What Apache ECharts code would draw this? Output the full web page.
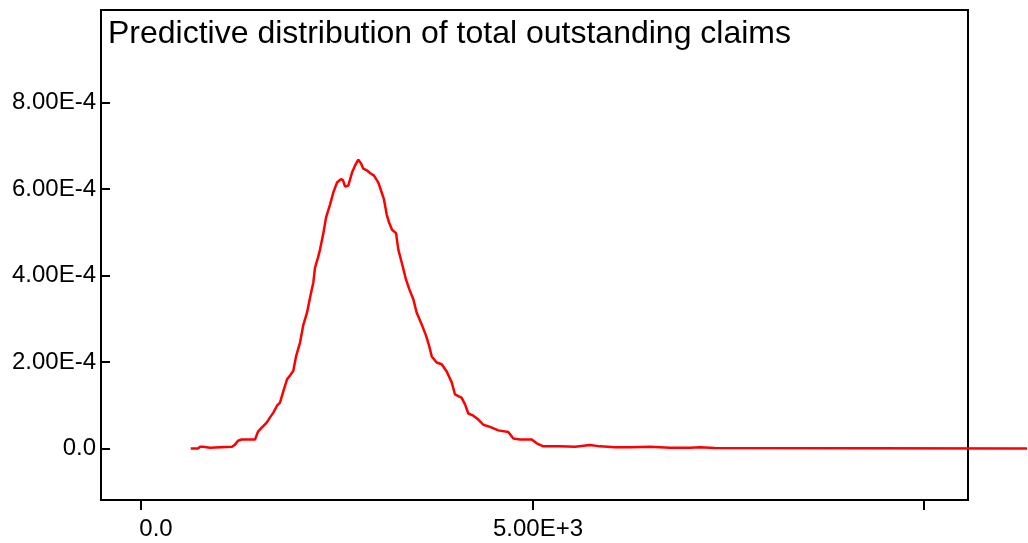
<!DOCTYPE html>
<html>
<head>
<meta charset="utf-8">
<script src="https://cdn.jsdelivr.net/npm/echarts@6/dist/echarts.min.js"></script>
<style>html,body{margin:0;padding:0;background:#fff}#c{width:1028px;height:543px}</style>
</head>
<body>
<div id="c"></div>
<script>
const titleText = 'Predictive distribution of total outstanding claims';

// total outstanding claims (x) and density (y, in units of 1E-4)
const claimValues = [635, 728, 754, 792, 817, 881, 1009, 1162, 1200, 1239, 1286, 1456, 1494, 1545, 1605, 1648, 1690, 1737, 1775, 1817,
  1865, 1903, 1945, 1980, 2031, 2073, 2120, 2167, 2201, 2222, 2261, 2286, 2328, 2363, 2414, 2456, 2503, 2554, 2580, 2605,
  2648, 2669, 2695, 2733, 2775, 2810, 2839, 2886, 2925, 2976, 3031, 3074, 3103, 3138, 3167, 3206, 3257, 3286, 3337, 3384,
  3427, 3478, 3521, 3585, 3640, 3682, 3713, 3776, 3840, 3904, 3968, 4010, 4096, 4138, 4180, 4244, 4308, 4372, 4457, 4563,
  4691, 4755, 4840, 4990, 5054, 5138, 5351, 5543, 5734, 5862, 6054, 6245, 6501, 6756, 7011, 7139, 7331, 7356, 11315];
const densityE4 = [0, 0, 0.04, 0.04, 0, 0.02, 0.03, 0.04, 0.09, 0.18, 0.21, 0.21, 0.39, 0.49, 0.60, 0.72, 0.83, 0.99, 1.06, 1.32,
  1.60, 1.69, 1.80, 2.13, 2.45, 2.86, 3.14, 3.56, 3.84, 4.18, 4.42, 4.60, 4.97, 5.34, 5.64, 5.92, 6.15, 6.23, 6.20, 6.06,
  6.08, 6.22, 6.38, 6.54, 6.68, 6.59, 6.47, 6.43, 6.37, 6.31, 6.15, 5.92, 5.76, 5.41, 5.23, 5.06, 4.98, 4.60, 4.25, 3.91,
  3.68, 3.45, 3.14, 2.87, 2.61, 2.36, 2.13, 1.99, 1.95, 1.78, 1.53, 1.25, 1.17, 1.02, 0.81, 0.76, 0.67, 0.55, 0.50, 0.42,
  0.38, 0.23, 0.21, 0.21, 0.12, 0.05, 0.05, 0.04, 0.08, 0.05, 0.03, 0.03, 0.04, 0.02, 0.02, 0.03, 0.01, 0, 0];

const xTickValues = [0, 5000, 10000];
const xTickLabels = ['0.0', '5.00E+3', ''];
const yTickValues = [0, 0.0002, 0.0004, 0.0006, 0.0008];
const yTickLabels = ['0.0', '2.00E-4', '4.00E-4', '6.00E-4', '8.00E-4'];

const seriesData = claimValues.map((x, i) => [x, densityE4[i] * 1e-4]);
const FONT = '"Liberation Sans", Arial, Helvetica, sans-serif';

// axis ranges
const X_MIN = -511, X_MAX = 10562;          // framed box
const X_MAX_WIDE = 11328;                   // same scale, extended to the page edge (curve overruns the frame)
const Y_MIN = -0.000119, Y_MAX = 0.001014;

function lookup(values, labels, v) {
  for (let i = 0; i < values.length; i++) {
    if (Math.abs(values[i] - v) < 1e-12 + Math.abs(values[i]) * 1e-6) return labels[i];
  }
  return '';
}

const chart = echarts.init(document.getElementById('c'), null, {renderer: 'canvas'});
chart.setOption({
  animation: false,
  backgroundColor: '#fff',
  title: {
    text: titleText,
    left: 103,
    top: 13,
    textStyle: {fontFamily: FONT, fontSize: 32, fontWeight: 'normal', color: '#000'}
  },
  grid: [
    {left: 101, right: 60, top: 10, bottom: 43, show: true, borderColor: '#000', borderWidth: 2, backgroundColor: 'transparent'},
    {left: 101, right: 0, top: 10, bottom: 43, show: false}
  ],
  xAxis: [{
    type: 'value', gridIndex: 0,
    min: X_MIN, max: X_MAX,
    splitLine: {show: false},
    axisLine: {show: true, onZero: false, lineStyle: {color: '#000', width: 2}},
    axisTick: {show: true, inside: false, length: 10, lineStyle: {color: '#000', width: 2}, customValues: xTickValues},
    axisLabel: {
      customValues: xTickValues.slice(0, 2),
      margin: 17,
      fontFamily: FONT, fontSize: 24, color: '#000',
      formatter: v => {
        const t = lookup(xTickValues, xTickLabels, v);
        return v === 0 ? '{a|' + t + '}' : '{b|' + t + '}';
      },
      rich: {
        a: {fontFamily: FONT, fontSize: 24, color: '#000', padding: [0, 0, 0, 30]},
        b: {fontFamily: FONT, fontSize: 24, color: '#000', padding: [0, 0, 0, 11]}
      }
    }
  }, {
    type: 'value', gridIndex: 1,
    min: X_MIN, max: X_MAX_WIDE,
    show: false
  }],
  yAxis: [{
    type: 'value', gridIndex: 0,
    min: Y_MIN, max: Y_MAX,
    splitLine: {show: false},
    axisLine: {show: true, onZero: false, lineStyle: {color: '#000', width: 2}},
    axisTick: {show: true, inside: true, length: 9, lineStyle: {color: '#000', width: 2}, customValues: yTickValues},
    axisLabel: {
      customValues: yTickValues,
      margin: 5,
      fontFamily: FONT, fontSize: 24, color: '#000',
      formatter: v => lookup(yTickValues, yTickLabels, v)
    }
  }, {
    type: 'value', gridIndex: 1,
    min: Y_MIN, max: Y_MAX,
    show: false
  }],
  series: [{
    type: 'line',
    xAxisIndex: 1, yAxisIndex: 1,
    data: seriesData,
    showSymbol: false,
    clip: false,
    lineStyle: {color: '#ff0000', width: 2.5},
    z: 5
  }]
});
</script>
</body>
</html>
